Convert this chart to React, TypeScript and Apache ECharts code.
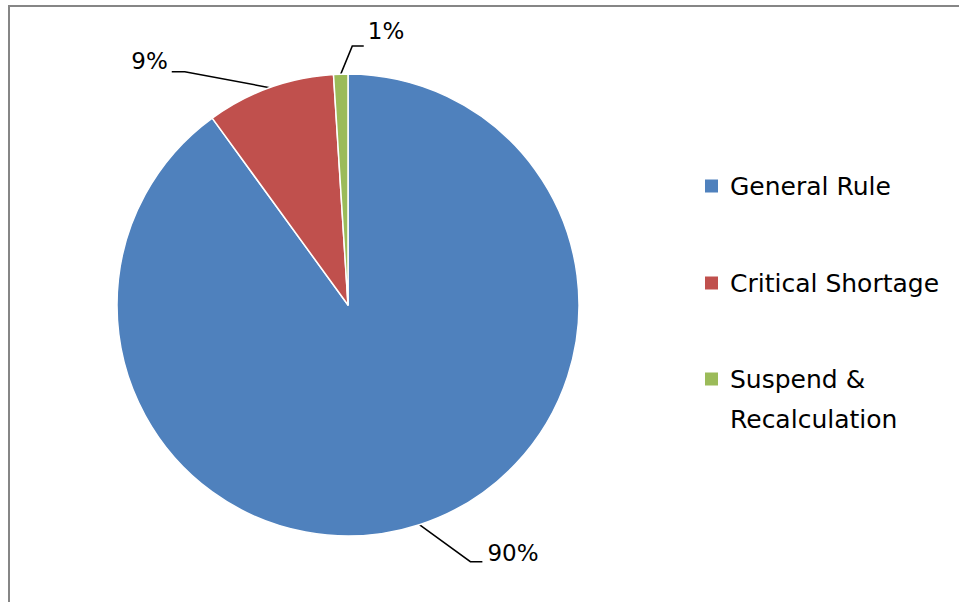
import React, { useEffect, useRef } from "react";
import * as echarts from "echarts";

const categories = ["General Rule", "Critical Shortage", "Suspend & Recalculation"];
const values = [90, 9, 1];
const colors = ["#4F81BD", "#C0504D", "#9BBB59"];
// the leading blank line keeps the legend square level with the first text line
const legendLabels = ["General Rule", "Critical Shortage", "\nSuspend &\nRecalculation"];

// leader-line geometry relative to the slice's anchor point: [elbowDx, elbowDy, endDx, textDx, textDy, align]
const leader: [number, number, number, number, number, string][] = [
  [51, 37, 63, 68, 28, "left"],
  [-85, -16, -98, -102, -27, "right"],
  [11.5, -28, 23, 27, -43, "left"],
];

export default function App() {
  const ref = useRef<HTMLDivElement>(null);
  useEffect(() => {
    if (!ref.current) return;
    const chart = echarts.init(ref.current, undefined, { renderer: "svg" });
    const cx = 348;
    const cy = 305;
    const R = 231;
    const total = values.reduce((a, b) => a + b, 0);
    const anchorOf = (idx: number) => {
      let before = 0;
      for (let i = 0; i < idx; i++) before += values[i];
      const mid = ((before + values[idx] / 2) / total) * Math.PI * 2;
      return [cx + R * Math.sin(mid), cy - R * Math.cos(mid)];
    };
    const font = "DejaVu Sans";
    const legendText = {
      fontFamily: font,
      fontSize: 25,
      color: "#000",
      lineHeight: 40,
      padding: [0, 0, 0, 6],
    };
    chart.setOption({
      animation: false,
      backgroundColor: "#ffffff",
      graphic: [
        {
          type: "rect",
          shape: { x: 9, y: 6, width: 1200, height: 1200 },
          style: { fill: "none", stroke: "#868686", lineWidth: 2 },
          silent: true,
        },
      ],
      legend: [
        {
          orient: "vertical",
          left: 703,
          top: 166,
          padding: 0,
          itemGap: 57,
          itemWidth: 15,
          itemHeight: 15,
          icon: "rect",
          selectedMode: false,
          data: categories.slice(0, 2),
          formatter: (n: string) => legendLabels[categories.indexOf(n)],
          textStyle: legendText,
        },
        {
          orient: "vertical",
          left: 703,
          top: 319,
          padding: 0,
          itemWidth: 15,
          itemHeight: 15,
          icon: "rect",
          selectedMode: false,
          data: categories.slice(2),
          formatter: (n: string) => legendLabels[categories.indexOf(n)],
          textStyle: legendText,
        },
      ],
      series: [
        {
          type: "pie",
          center: [cx, cy],
          radius: R,
          startAngle: 90,
          clockwise: true,
          avoidLabelOverlap: false,
          data: categories.map((name, i) => ({
            name,
            value: values[i],
            itemStyle: { color: colors[i] },
          })),
          itemStyle: { borderColor: "#ffffff", borderWidth: 1.5 },
          label: {
            show: true,
            position: "outside",
            formatter: (p: any) => `${Math.round(p.percent)}%`,
            fontFamily: font,
            fontSize: 23,
            color: "#000",
          },
          labelLine: {
            show: true,
            length: 20,
            length2: 10,
            lineStyle: { color: "#000", width: 1.5 },
          },
          emphasis: { disabled: true },
          labelLayout: (params: any) => {
            const idx = params.dataIndex;
            const pts = params.labelLinePoints;
            const a = pts && pts[0] ? pts[0] : anchorOf(idx);
            const [ex, ey, endX, tx, ty, align] = leader[idx];
            return {
              x: a[0] + tx,
              y: a[1] + ty,
              align,
              verticalAlign: "middle",
              labelLinePoints: [
                [a[0], a[1]],
                [a[0] + ex, a[1] + ey],
                [a[0] + endX, a[1] + ey],
              ],
            };
          },
        },
      ],
    });
    return () => chart.dispose();
  }, []);
  return (
    <div
      ref={ref}
      style={{ position: "fixed", left: 0, top: 0, width: 959, height: 602, background: "#fff" }}
    />
  );
}
